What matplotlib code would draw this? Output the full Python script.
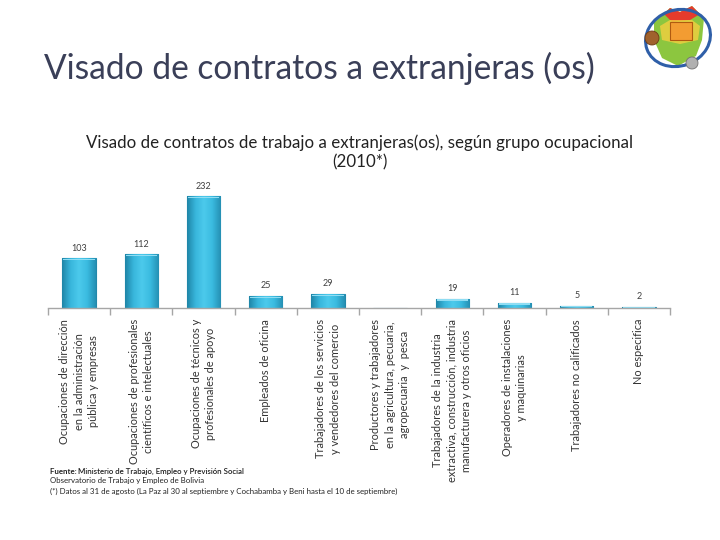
import matplotlib
matplotlib.use("Agg")
import matplotlib.pyplot as plt
import matplotlib.transforms as mtransforms
from matplotlib.colors import LinearSegmentedColormap
from matplotlib.patches import Ellipse, Circle, Polygon, Rectangle
import numpy as np

categories = [
    "Ocupaciones de dirección\nen la administración\npública y empresas",
    "Ocupaciones de profesionales\ncientíficos e intelectuales",
    "Ocupaciones de técnicos y\nprofesionales de apoyo",
    "Empleados de oficina",
    "Trabajadores de los servicios\ny vendedores del comercio",
    "Productores y trabajadores\nen la agricultura, pecuaria,\nagropecuaria  y  pesca",
    "Trabajadores de la industria\nextractiva, construcción, industria\nmanufacturera y otros oficios",
    "Operadores de instalaciones\ny maquinarias",
    "Trabajadores no calificados",
    "No especifica",
]
values = [103, 112, 232, 25, 29, 0, 19, 11, 5, 2]
value_labels = ["103", "112", "232", "25", "29", "", "19", "11", "5", "2"]

slide_title = "Visado de contratos a extranjeras (os)"
chart_title = "Visado de contratos de trabajo a extranjeras(os), según grupo ocupacional\n(2010*)"
notes = [
    "Fuente: Ministerio de Trabajo, Empleo y Previsión Social",
    "Observatorio de Trabajo y Empleo de Bolivia",
    "(*) Datos al 31 de agosto (La Paz al 30 al septiembre y Cochabamba y Beni hasta el 10 de septiembre)",
]

plt.rcParams['font.family'] = ['Lato', 'DejaVu Sans']

fig = plt.figure(figsize=(7.2, 5.4), dpi=100)
fig.patch.set_facecolor("white")
renderer = fig.canvas.get_renderer()


def fit(t, target, vertical=False):
    bb = t.get_window_extent(renderer)
    cur = bb.height if vertical else bb.width
    t.set_fontsize(t.get_fontsize() * target / cur)


ax = fig.add_axes([48/720, (540-308)/540, 622/720, 128/540])
x = np.arange(len(categories))
bars = ax.bar(x, values, width=0.54, color="#36B4DA", edgecolor="#2388AA", linewidth=0.8, zorder=2)
ax.set_xlim(-0.5, len(categories)-0.5)
ax.set_ylim(0, 266)

cmap = LinearSegmentedColormap.from_list("b", ["#1F86A8", "#38B6DC", "#4CCAEC", "#3ABBE0", "#2590B4"])
grad_h = np.linspace(0, 1, 64)[None, :]
for b in bars:
    h = b.get_height()
    if h <= 0:
        continue
    x0 = b.get_x(); w = b.get_width()
    img = ax.imshow(np.repeat(grad_h, 2, axis=0), cmap=cmap, aspect="auto",
                    extent=[x0, x0 + w, 0, h], origin="lower", zorder=2.5)
    img.set_clip_path(b)
    cap = min(4.0, h * 0.5)
    ax.add_patch(Rectangle((x0 + w*0.03, h - cap), w*0.94, cap*0.7, facecolor="#8FDDF3",
                           edgecolor="none", zorder=3))
ax.set_xlim(-0.5, len(categories)-0.5)
ax.set_ylim(0, 266)

for s in ["top", "right", "left"]:
    ax.spines[s].set_visible(False)
ax.spines["bottom"].set_color("#A6A6A6")
ax.spines["bottom"].set_linewidth(1.0)
ax.spines["bottom"].set_zorder(4)
ax.set_yticks([])
ax.set_xticks(np.arange(-0.5, len(categories), 1.0))
ax.set_xticklabels([])
ax.tick_params(axis="x", direction="out", length=5, color="#A6A6A6", width=1.0)

for xi, v, lab in zip(x, values, value_labels):
    if lab:
        ax.annotate(lab, (xi, v), xytext=(0, 4), textcoords="offset points",
                    ha="center", va="bottom", fontsize=6.5, color="#404040")

trans = mtransforms.blended_transform_factory(ax.transData, fig.transFigure)
probe = fig.text(0, 0, "extractiva, construcción, industria", fontsize=10)
bb = probe.get_window_extent(renderer)
fs = 10 * 162 / bb.width
probe.remove()
for xi, lab in zip(x, categories):
    fig.text(xi, 1 - 319/540, lab, transform=trans, rotation=90, ha="center", va="top",
             multialignment="center", fontsize=fs, color="#333333", linespacing=1.4)

ct = fig.text(360/720, 1 - 134/540, chart_title, ha="center", va="top", fontsize=12,
              color="#222222", linespacing=1.25)
probe = fig.text(0, 0, chart_title.split("\n")[0], fontsize=12)
bb = probe.get_window_extent(renderer)
ct.set_fontsize(12 * 543 / bb.width)
probe.remove()

st = fig.text(44/720, 1 - 68/540, slide_title, ha="left", va="center", fontsize=24,
              color="#3A3F58")
fit(st, 551)

ys = [471, 481, 491]
f1 = fig.text(50/720, 1 - ys[0]/540, "Fuente: ", ha="left", va="center", fontsize=5.6,
              color="#222222", fontweight="bold")
n3 = fig.text(50/720, 1 - ys[2]/540, notes[2], ha="left", va="center", fontsize=5.6, color="#222222")
fit(n3, 348)
fsn = n3.get_fontsize()
f1.set_fontsize(fsn)
w1 = f1.get_window_extent(renderer).width
fig.text((50 + w1)/720, 1 - ys[0]/540, "Ministerio de Trabajo, Empleo y Previsión Social", ha="left",
         va="center", fontsize=fsn, color="#222222", fontweight="semibold")
fig.text(50/720, 1 - ys[1]/540, notes[1], ha="left", va="center", fontsize=fsn, color="#222222")

# simple logo approximation (top-right)
lax = fig.add_axes([640/720, 1 - 76/540, 76/720, 76/540])
lax.set_xlim(0, 76); lax.set_ylim(76, 0); lax.axis("off")
lax.add_patch(Polygon([[14, 22], [30, 8], [40, 12], [52, 6], [64, 18], [62, 40], [56, 56], [38, 66], [22, 58], [14, 40]],
                      closed=True, facecolor="#8CC63F", edgecolor="none"))
lax.add_patch(Polygon([[24, 14], [30, 8], [40, 12], [52, 6], [60, 14], [50, 20], [32, 22]],
                      closed=True, facecolor="#E53B2C", edgecolor="none"))
lax.add_patch(Polygon([[20, 26], [30, 20], [52, 20], [60, 26], [58, 40], [40, 44], [22, 40]],
                      closed=True, facecolor="#F4D03F", edgecolor="none", alpha=0.8))
lax.add_patch(Ellipse((38, 38), 66, 56, angle=-20, fill=False, edgecolor="#2F5FA8", linewidth=2.2))
lax.add_patch(Rectangle((30, 22), 22, 18, facecolor="#F39C32", edgecolor="#B05A10", linewidth=0.8))
lax.add_patch(Circle((12, 38), 7, facecolor="#A0622D", edgecolor="#6B3A15", linewidth=0.6))
lax.add_patch(Circle((52, 63), 6, facecolor="#B0B0B0", edgecolor="#707070", linewidth=0.6))

fig.savefig("out.png", dpi=100, facecolor="white")
